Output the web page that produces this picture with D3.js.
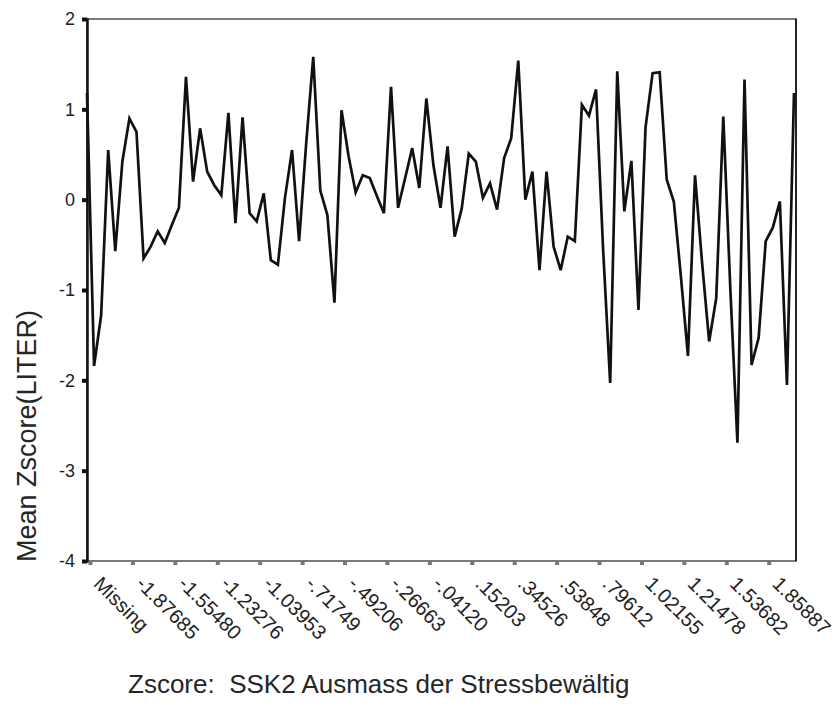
<!DOCTYPE html>
<html>
<head>
<meta charset="utf-8">
<script src="https://cdn.jsdelivr.net/npm/d3@7"></script>
<style>
  body { margin: 0; background: #fff; }
  svg { display: block; }
</style>
</head>
<body>
<div id="chart"></div>
<script>
// mean Zscore(LITER) per category of Zscore SSK2
const meanValues = [
   1.18, -1.84, -1.28,  0.55, -0.57,  0.42,  0.90,  0.75, -0.65, -0.52,
  -0.35, -0.48, -0.28, -0.09,  1.36,  0.20,  0.79,  0.31,  0.16,  0.05,
   0.96, -0.26,  0.91, -0.15, -0.24,  0.07, -0.67, -0.72,  0.02,  0.55,
  -0.46,  0.62,  1.58,  0.10, -0.17, -1.14,  0.99,  0.48,  0.08,  0.27,
   0.24,  0.04, -0.15,  1.25, -0.09,  0.24,  0.57,  0.13,  1.12,  0.38,
  -0.09,  0.59, -0.41, -0.10,  0.51,  0.42,  0.02,  0.18, -0.11,  0.46,
   0.68,  1.54,  0.00,  0.31, -0.78,  0.31, -0.52, -0.78, -0.41, -0.46,
   1.05,  0.93,  1.22, -0.55, -2.03,  1.42, -0.13,  0.43, -1.22,  0.80,
   1.40,  1.41,  0.22, -0.02, -0.85, -1.73,  0.27, -0.70, -1.57, -1.09,
   0.92, -1.00, -2.69,  1.33, -1.83, -1.53, -0.46, -0.31, -0.02, -2.05,
   1.18
];

// every sixth category carries a label
const tickLabels = [
  "Missing", "-1.87685", "-1.55480", "-1.23276", "-1.03953", "-.71749",
  "-.49206", "-.26663", "-.04120", ".15203", ".34526", ".53848",
  ".79612", "1.02155", "1.21478", "1.53682", "1.85887"
];
const tickEvery = 6;
const yTicks = [2, 1, 0, -1, -2, -3, -4];

const xTitle = "Zscore:  SSK2 Ausmass der Stressbewältig";
const yTitle = "Mean Zscore(LITER)";

const svgWidth = 835, svgHeight = 714;
const plot = {left: 87, right: 796, top: 19, bottom: 561};
const fontFamily = "Arial, 'Liberation Sans', sans-serif";

const svg = d3.select("#chart")
              .append("svg")
              .attr("width", svgWidth)
              .attr("height", svgHeight);

const categories = d3.range(meanValues.length);

const xScale = d3.scalePoint()
                 .domain(categories)
                 .range([plot.left, plot.right - 2]);

const yScale = d3.scaleLinear()
                 .domain([-4, 2])
                 .range([plot.bottom, plot.top]);

// frame: grey top and bottom, dark sides
svg.append("rect")
   .attr("x", plot.left)
   .attr("y", plot.top)
   .attr("width", plot.right - plot.left)
   .attr("height", plot.bottom - plot.top)
   .attr("fill", "none")
   .attr("stroke", "#7a7a7a")
   .attr("stroke-width", 2);

svg.append("line")
   .attr("x1", plot.right)
   .attr("x2", plot.right)
   .attr("y1", plot.top)
   .attr("y2", plot.bottom)
   .attr("stroke", "#222")
   .attr("stroke-width", 2);

// y axis
const yAxis = d3.axisLeft(yScale)
                .tickValues(yTicks)
                .tickFormat(d => String(d))
                .tickSize(5)
                .tickPadding(7);

const yAxisGroup = svg.append("g")
                      .attr("transform", `translate(${plot.left}, 0)`)
                      .call(yAxis);

yAxisGroup.select(".domain")
          .attr("stroke", "#111")
          .attr("stroke-width", 2.5);
yAxisGroup.selectAll(".tick line")
          .attr("stroke", "#111")
          .attr("stroke-width", 4);
yAxisGroup.selectAll(".tick text")
          .attr("fill", "#222")
          .style("font-family", fontFamily)
          .style("font-size", "18px");

// x axis, ticks sit a little right of the data points
const xAxis = d3.axisBottom(xScale)
                .tickValues(categories.filter(i => i % tickEvery === 0))
                .tickFormat(i => tickLabels[i / tickEvery])
                .tickSize(4);

const xAxisGroup = svg.append("g")
                      .attr("transform", `translate(3, ${plot.bottom})`)
                      .call(xAxis);

xAxisGroup.select(".domain").remove();
xAxisGroup.selectAll(".tick line")
          .attr("stroke", "#777")
          .attr("stroke-width", 4);
xAxisGroup.selectAll(".tick text")
          .attr("x", 0)
          .attr("y", 0)
          .attr("dy", 0)
          .attr("text-anchor", "start")
          .attr("transform", "translate(2, 24) rotate(45)")
          .attr("fill", "#222")
          .style("font-family", fontFamily)
          .style("font-size", "20px");

// data line
const line = d3.line()
               .x((d, i) => xScale(i))
               .y(d => yScale(d));

svg.append("path")
   .datum(meanValues)
   .attr("d", line)
   .attr("fill", "none")
   .attr("stroke", "#111")
   .attr("stroke-width", 2.7)
   .attr("stroke-linejoin", "miter");

// titles
svg.append("text")
   .attr("transform", "translate(36, 436) rotate(-90)")
   .attr("text-anchor", "middle")
   .attr("fill", "#262626")
   .style("font-family", fontFamily)
   .style("font-size", "27px")
   .text(yTitle);

svg.append("text")
   .attr("x", 128)
   .attr("y", 693)
   .attr("fill", "#262626")
   .style("font-family", fontFamily)
   .style("font-size", "26px")
   .style("white-space", "pre")
   .text(xTitle);
</script>
</body>
</html>
